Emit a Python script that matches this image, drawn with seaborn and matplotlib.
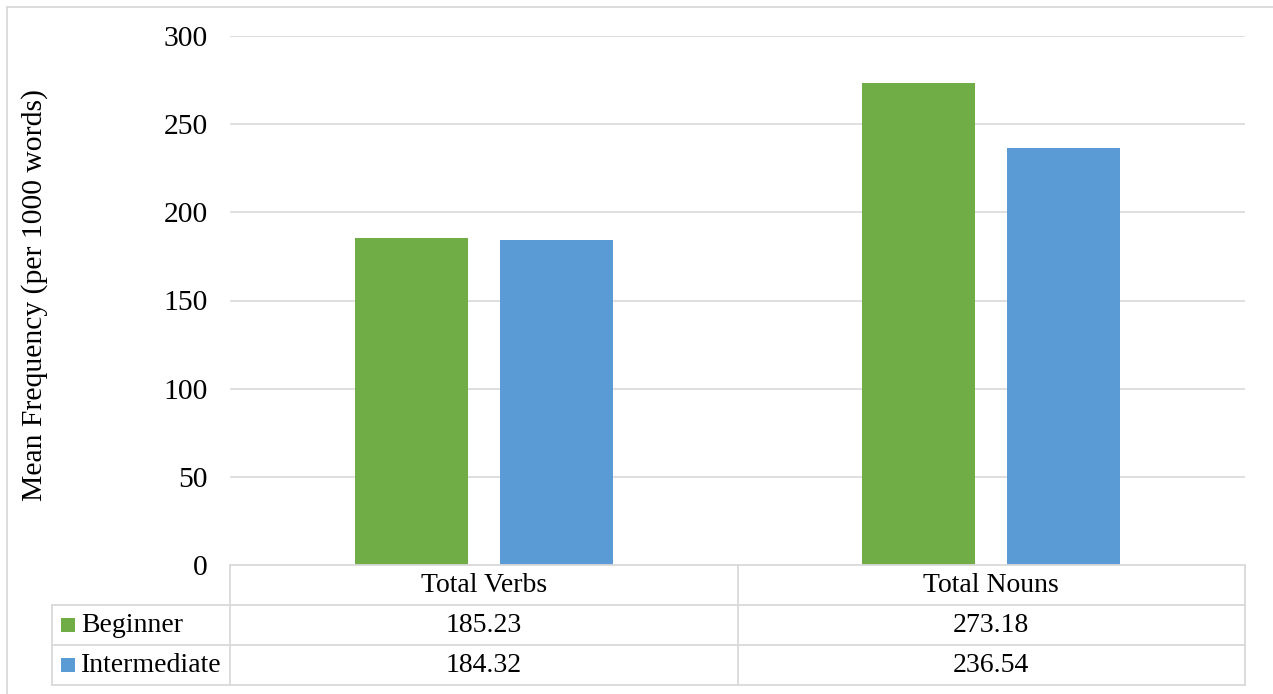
import matplotlib
matplotlib.use("Agg")
import matplotlib.pyplot as plt
from matplotlib.lines import Line2D
from matplotlib.patches import Rectangle
from matplotlib.transforms import blended_transform_factory
import seaborn as sns
import pandas as pd

# Data
categories = ["Total Verbs", "Total Nouns"]
groups = ["Beginner", "Intermediate"]
beginner = [185.23, 273.18]
intermediate = [184.32, 236.54]
yticks = [0, 50, 100, 150, 200, 250, 300]

green = "#70AD47"
blue = "#5B9BD5"
grid_col = "#D9D9D9"

df = pd.DataFrame({
    "category": categories * 2,
    "group": [groups[0]] * 2 + [groups[1]] * 2,
    "value": beginner + intermediate,
})

sns.set_theme(style="white")
plt.rcParams["font.family"] = ["Liberation Serif", "DejaVu Serif"]
FS = 20
FS_AX = 21.3

W, H = 1273, 694
fig = plt.figure(figsize=(W / 100, H / 100), dpi=100)
fig.patch.set_facecolor("white")


def fx(px):
    return px / W


def fy(py):
    return 1 - py / H


ax_left, ax_right, ax_top, ax_bottom = 230, 1245, 36, 565
ax = fig.add_axes([fx(ax_left), fy(ax_bottom), fx(ax_right - ax_left),
                   fy(ax_top) - fy(ax_bottom)])

sns.barplot(data=df, x="category", y="value", hue="group",
            palette=[green, blue], saturation=1, width=0.57, gap=0.218,
            legend=False, ax=ax, zorder=3, linewidth=0)

ax.set_xlim(-0.5, 1.5)
ax.set_ylim(0, 300)
ax.set_yticks(yticks)
ax.set_yticklabels([str(t) for t in yticks], fontsize=FS_AX, color="black")
ax.set_xticks([])
ax.set_xlabel("")
ax.set_ylabel("")
ax.tick_params(axis="y", length=0, pad=16)
for s in ax.spines.values():
    s.set_visible(False)
for t in yticks[1:]:
    ax.axhline(t, color=grid_col, lw=1.2, zorder=1)

fig.text(fx(35), fy(295), "Mean Frequency (per 1000 words)", rotation=90,
         ha="center", va="center", fontsize=FS_AX, color="black")

# Data table under the plot
line_kw = dict(color=grid_col, lw=1.3)
xs_col = [230, 737.5, 1245]
rows_y = [565, 605, 645, 685]


def hline(x0, x1, y):
    fig.add_artist(Line2D([fx(x0), fx(x1)], [fy(y), fy(y)],
                          transform=fig.transFigure, **line_kw))


def vline(x, y0, y1):
    fig.add_artist(Line2D([fx(x), fx(x)], [fy(y0), fy(y1)],
                          transform=fig.transFigure, **line_kw))


hline(230, 1245, rows_y[0])
for y in rows_y[1:]:
    hline(52, 1245, y)
for x in xs_col:
    vline(x, rows_y[0], rows_y[-1])
vline(52, rows_y[1], rows_y[-1])

# Outer chart border
hline(7, W + 5, 7)
vline(7, 7, H + 5)

trans = blended_transform_factory(ax.transData, fig.transFigure)
for i, cat in enumerate(categories):
    fig.text(i, fy((rows_y[0] + rows_y[1]) / 2), cat, transform=trans,
             ha="center", va="center", fontsize=FS, color="black")
    fig.text(i, fy((rows_y[1] + rows_y[2]) / 2), f"{beginner[i]:.2f}",
             transform=trans, ha="center", va="center", fontsize=FS,
             color="black")
    fig.text(i, fy((rows_y[2] + rows_y[3]) / 2), f"{intermediate[i]:.2f}",
             transform=trans, ha="center", va="center", fontsize=FS,
             color="black")

for j, (name, col) in enumerate(zip(groups, [green, blue])):
    yc = (rows_y[j + 1] + rows_y[j + 2]) / 2
    fig.add_artist(Rectangle((fx(61), fy(yc + 7)), fx(14), fy(yc - 7) - fy(yc + 7),
                             transform=fig.transFigure, facecolor=col,
                             edgecolor="none"))
    fig.text(fx(81), fy(yc), name, ha="left", va="center", fontsize=FS,
             color="black")

fig.savefig("out.png", dpi=100, facecolor="white")
